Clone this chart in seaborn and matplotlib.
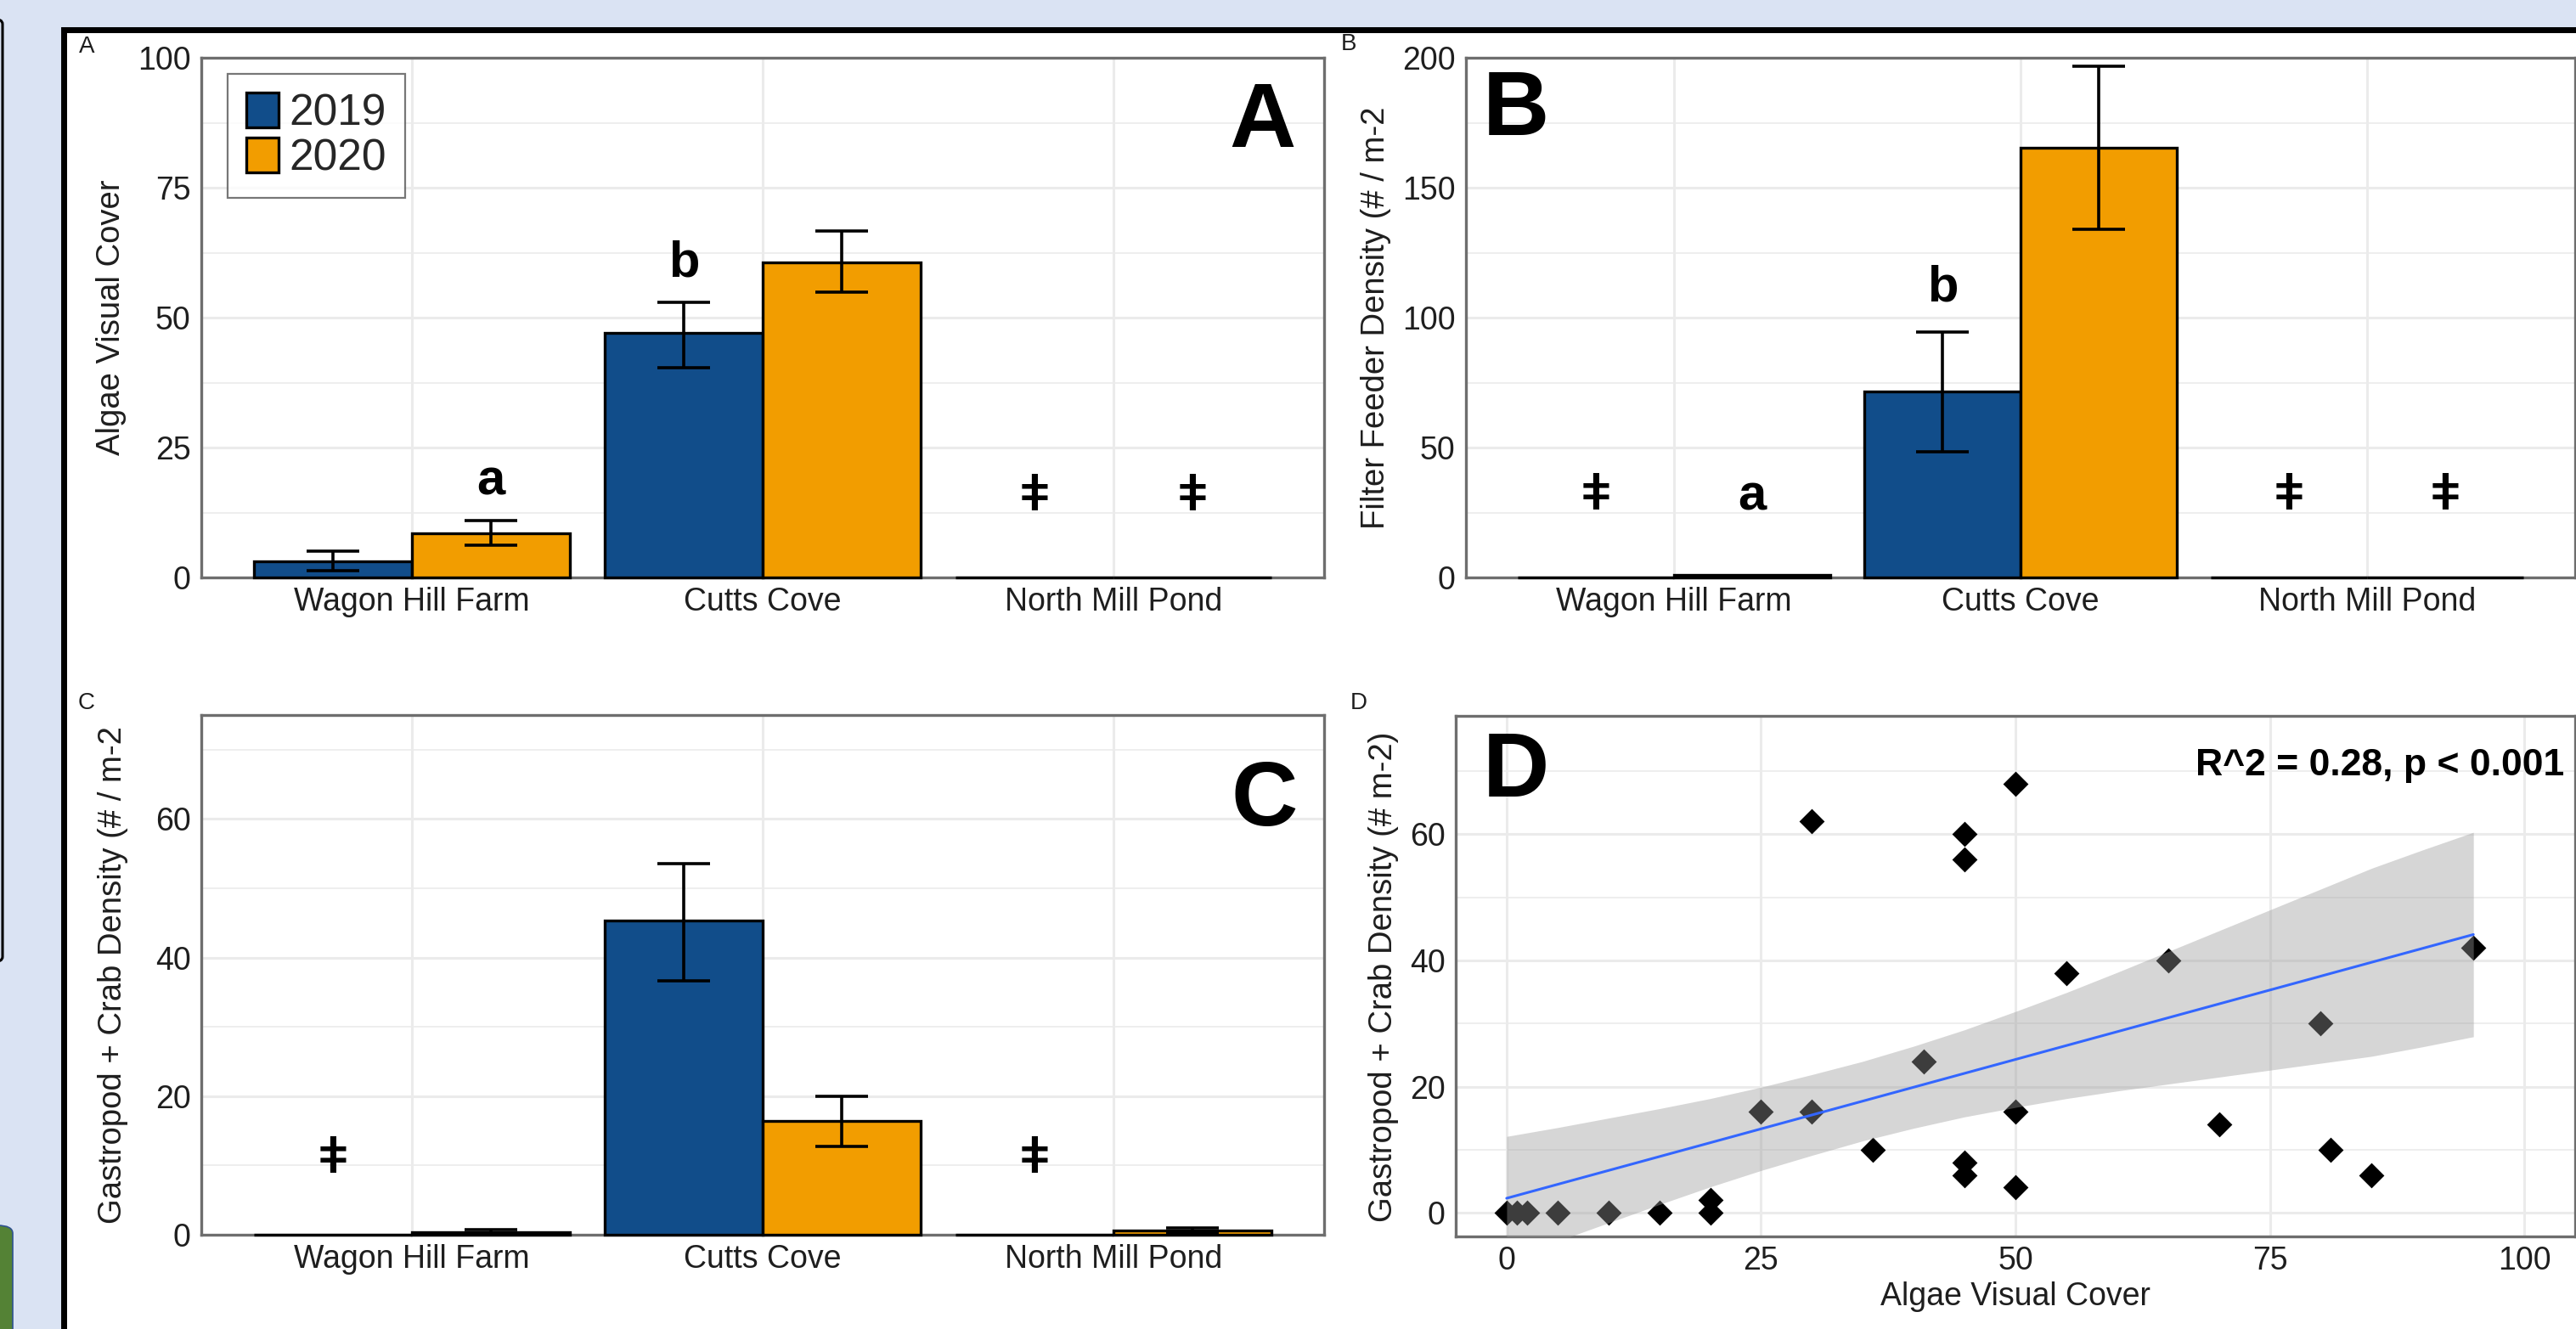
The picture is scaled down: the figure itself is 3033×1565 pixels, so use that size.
import numpy as np
import pandas as pd
import matplotlib
matplotlib.use("Agg")
import matplotlib.pyplot as plt
import seaborn as sns
from matplotlib.patches import Rectangle, FancyBboxPatch, Patch
from matplotlib.ticker import MultipleLocator

# ---------------- data ----------------
sites = ["Wagon Hill Farm", "Cutts Cove", "North Mill Pond"]
years = ["2019", "2020"]
nan = np.nan

# Panel A: algae visual cover
algae_2019 = [3.1, 47.0, 0.0]
algae_2020 = [8.5, 60.6, 0.0]
algae_lo_2019 = [1.3, 40.4, nan]
algae_hi_2019 = [5.1, 53.0, nan]
algae_lo_2020 = [6.2, 54.9, nan]
algae_hi_2020 = [11.0, 66.6, nan]
algae_let_2019 = ["", "b", "ǂ"]
algae_let_2020 = ["a", "", "ǂ"]
algae_let_y_2019 = [nan, 58.0, 15.4]
algae_let_y_2020 = [15.9, nan, 15.4]

# Panel B: filter feeder density
filter_2019 = [0.0, 71.7, 0.0]
filter_2020 = [1.0, 165.4, 0.0]
filter_lo_2019 = [nan, 48.3, nan]
filter_hi_2019 = [nan, 94.6, nan]
filter_lo_2020 = [nan, 134.0, nan]
filter_hi_2020 = [nan, 196.7, nan]
filter_let_2019 = ["ǂ", "b", "ǂ"]
filter_let_2020 = ["a", "", "ǂ"]
filter_let_y_2019 = [31.2, 106.5, 31.2]
filter_let_y_2020 = [26.1, nan, 31.2]

# Panel C: gastropod + crab density
gastro_2019 = [0.0, 45.4, 0.0]
gastro_2020 = [0.4, 16.4, 0.6]
gastro_lo_2019 = [nan, 36.6, nan]
gastro_hi_2019 = [nan, 53.6, nan]
gastro_lo_2020 = [0.1, 12.7, 0.2]
gastro_hi_2020 = [0.7, 20.0, 1.0]
gastro_let_2019 = ["ǂ", "", "ǂ"]
gastro_let_2020 = ["", "", ""]
gastro_let_y_2019 = [10.8, nan, 10.8]
gastro_let_y_2020 = [nan, nan, nan]

# Panel D: scatter of algae cover vs gastropod + crab density
algae_cover = [0, 1, 2, 5, 10, 15, 20, 20, 25, 30, 30, 36, 41, 45, 45, 45, 45,
               50, 50, 50, 55, 65, 70, 80, 81, 85, 95]
gastro_density = [0, 0, 0, 0, 0, 0, 0, 2, 16, 16, 62, 10, 24, 60, 56, 8, 6,
                  68, 16, 4, 38, 40, 14, 30, 10, 6, 42]
# fitted line and its 95% band
fit_x = [0, 95]
fit_y = [2.3, 44.1]
band_x = [0, 5, 10, 15, 20, 25, 30, 35, 40, 45, 50, 55, 60, 65, 70, 75, 80, 85, 90, 95]
band_lo = [-7.5, -4.5, -1.6, 1.3, 4.1, 6.7, 9.1, 11.4, 13.4, 15.2, 16.7, 18.1,
           19.3, 20.4, 21.5, 22.6, 23.7, 24.8, 26.3, 27.9]
band_hi = [12.1, 13.5, 15.0, 16.5, 18.1, 19.9, 21.9, 24.0, 26.4, 29.0, 31.9, 34.9,
           38.1, 41.4, 44.7, 48.0, 51.3, 54.6, 57.5, 60.3]
stat_text = "R^2 = 0.28, p < 0.001"

# ---------------- style ----------------
BLUE = "#114D8A"
ORANGE = "#F29D00"
BORDER = "#6e6e6e"
GRID = "#ebebeb"
TXT = "#1e1e1e"
BG = "#DAE3F3"

sns.set_style("white")
plt.rcParams["font.family"] = ["Liberation Sans", "DejaVu Sans"]

W, H = 3033, 1565
DPI = 100
fig = plt.figure(figsize=(W / DPI, H / DPI), dpi=DPI, facecolor=BG)


def fx(px):
    return px / W


def fy(py):
    return 1 - py / H


def add_panel(l, t, r, b):
    return fig.add_axes([l / W, 1 - b / H, (r - l) / W, (b - t) / H])


# frame and surrounding screenshot elements
fig.add_artist(Rectangle((fx(74.5), -0.1), 1.2, fy(34.5) + 0.1, transform=fig.transFigure,
                         facecolor="white", edgecolor="black", lw=5.0, zorder=-10))
fig.add_artist(FancyBboxPatch((fx(-40), fy(1133)), fx(43), fy(22) - fy(1133),
                              boxstyle="round,pad=0,rounding_size=0.004",
                              transform=fig.transFigure, facecolor=BG,
                              edgecolor="black", lw=2.2, zorder=-9))
fig.add_artist(FancyBboxPatch((fx(-40), -0.05), fx(55), fy(1443) + 0.05,
                              boxstyle="round,pad=0,rounding_size=0.006",
                              transform=fig.transFigure, facecolor="#548235",
                              edgecolor="#2F528F", lw=1.2, zorder=-9))


def style_axes(ax, ymajor, yminor):
    ax.set_facecolor("white")
    for s in ax.spines.values():
        s.set_visible(True)
        s.set_color(BORDER)
        s.set_linewidth(2.4)
    ax.yaxis.set_major_locator(MultipleLocator(ymajor))
    ax.yaxis.set_minor_locator(MultipleLocator(yminor))
    ax.set_axisbelow(True)
    ax.grid(True, which="major", color=GRID, lw=2.2)
    ax.grid(True, which="minor", axis="y", color=GRID, lw=1.2)
    ax.tick_params(axis="both", which="major", length=5, width=1.8, color=BORDER,
                   labelsize=27, labelcolor=TXT)
    ax.tick_params(axis="x", which="major", pad=3)
    ax.tick_params(axis="y", which="major", pad=4)
    ax.tick_params(which="minor", length=0)
    ax.set_xlabel("")
    ax.set_ylabel("")


def bar_panel(ax, v19, v20, lo19, hi19, lo20, hi20, let19, let20, ly19, ly20, ymax, ymajor, yminor):
    df = pd.DataFrame({"site": sites * 2,
                       "year": [years[0]] * 3 + [years[1]] * 3,
                       "value": list(v19) + list(v20)})
    sns.barplot(data=df, x="site", y="value", hue="year", order=sites, hue_order=years,
                palette=[BLUE, ORANGE], saturation=1, width=0.9, errorbar=None,
                edgecolor="black", linewidth=2.4, legend=False, ax=ax)
    ax.set_xlim(-0.6, 2.6)
    ax.set_ylim(0, ymax)
    style_axes(ax, ymajor, yminor)
    groups = [(v19, lo19, hi19, let19, ly19), (v20, lo20, hi20, let20, ly20)]
    for cont, (vals, los, his, lets, lys) in zip(ax.containers, groups):
        for bar, v, lo, hi, lt, ly in zip(cont, vals, los, his, lets, lys):
            bar.set_clip_on(False)
            bar.set_zorder(3)
            xc = bar.get_x() + bar.get_width() / 2
            if not np.isnan(lo):
                ax.errorbar([xc], [v], yerr=[[v - lo], [hi - v]], fmt="none",
                            ecolor="black", elinewidth=2.6, capsize=22, capthick=2.6,
                            zorder=4, clip_on=False)
            if lt:
                va = "center" if lt == "ǂ" else "baseline"
                ax.text(xc, ly, lt, ha="center", va=va, fontsize=43,
                        fontweight="bold", color="black", zorder=5)


# ---------------- Panel A ----------------
axA = add_panel(237, 68, 1559, 680)
bar_panel(axA, algae_2019, algae_2020, algae_lo_2019, algae_hi_2019, algae_lo_2020,
          algae_hi_2020, algae_let_2019, algae_let_2020, algae_let_y_2019, algae_let_y_2020,
          100, 25, 12.5)
handles = [Patch(facecolor=BLUE, edgecolor="black", lw=2.4),
           Patch(facecolor=ORANGE, edgecolor="black", lw=2.4)]
leg = axA.legend(handles, years, loc="upper left", bbox_to_anchor=(31 / 1322, 1 - 19 / 612),
                 borderaxespad=0, fontsize=37, frameon=True, fancybox=False,
                 handlelength=0.74, handleheight=0.86, handletextpad=0.25,
                 labelspacing=0.08, borderpad=0.42)
leg.get_frame().set_edgecolor("#555555")
leg.get_frame().set_linewidth(1.6)

# ---------------- Panel B ----------------
axB = add_panel(1726, 68, 3032, 680)
bar_panel(axB, filter_2019, filter_2020, filter_lo_2019, filter_hi_2019, filter_lo_2020,
          filter_hi_2020, filter_let_2019, filter_let_2020, filter_let_y_2019, filter_let_y_2020,
          200, 50, 25)

# ---------------- Panel C ----------------
axC = add_panel(237, 842, 1559, 1454)
bar_panel(axC, gastro_2019, gastro_2020, gastro_lo_2019, gastro_hi_2019, gastro_lo_2020,
          gastro_hi_2020, gastro_let_2019, gastro_let_2020, gastro_let_y_2019, gastro_let_y_2020,
          75, 20, 10)

# ---------------- Panel D ----------------
axD = add_panel(1714, 843, 3032, 1456)
sns.scatterplot(x=algae_cover, y=gastro_density, marker="D", s=230, color="black",
                linewidth=0, ax=axD, zorder=2)
axD.fill_between(band_x, band_lo, band_hi, color="#999999", alpha=0.4, lw=0, zorder=3)
sns.lineplot(x=fit_x, y=fit_y, color="#3366FF", lw=2.2, ax=axD, zorder=4)
axD.set_xlim(-5, 105)
axD.set_ylim(-3.75, 78.75)
style_axes(axD, 20, 10)
axD.xaxis.set_major_locator(MultipleLocator(25))
axD.set_xlabel("Algae Visual Cover", fontsize=27, color=TXT, labelpad=4)
axD.text(0.99, 0.905, stat_text, transform=axD.transAxes, ha="right", va="center",
         fontsize=32, fontweight="bold", color="black")

# ---------------- labels ----------------
ylab_kw = dict(rotation=90, ha="center", va="center", fontsize=27.5, color=TXT)
fig.text(fx(131), fy(374), "Algae Visual Cover", **ylab_kw)
fig.text(fx(1620), fy(374), "Filter Feeder Density (# / m-2", **ylab_kw)
fig.text(fx(133), fy(1148), "Gastropod + Crab Density (# / m-2", **ylab_kw)
fig.text(fx(1629), fy(1150), "Gastropod + Crab Density (# m-2)", **ylab_kw)

small_kw = dict(ha="center", va="center", fontsize=20, color=TXT)
fig.text(fx(102), fy(55), "A", **small_kw)
fig.text(fx(1588), fy(52), "B", **small_kw)
fig.text(fx(102), fy(828), "C", **small_kw)
fig.text(fx(1600), fy(828), "D", **small_kw)

big_kw = dict(ha="center", va="center", fontsize=78, fontweight="bold", color="black")
fig.text(fx(1486), fy(145), "A", **big_kw)
fig.text(fx(1785), fy(131), "B", **big_kw)
fig.text(fx(1489), fy(944), "C", **big_kw)
fig.text(fx(1785), fy(910), "D", **big_kw)

fig.savefig("out.png", dpi=DPI, facecolor=BG)
